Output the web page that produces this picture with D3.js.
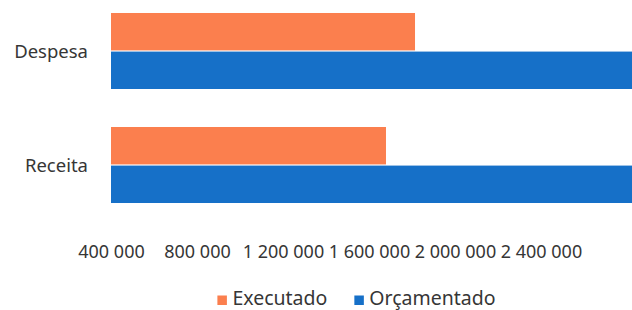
<!DOCTYPE html>
<html>
  <head>
    <meta charset="UTF-8">
    <script src="https://cdnjs.cloudflare.com/ajax/libs/d3/7.8.5/d3.min.js"></script>
    <style>
      body { margin: 0; background: #fff; }
      svg { display: block; font-family: "Noto Sans", "Open Sans", sans-serif; }
      .lbl { fill: #363636; }
    </style>
  </head>
  <body>
    <svg id="chart" width="632" height="310"></svg>
    <script>
      // data
      var categories = ["Despesa", "Receita"];
      var seriesNames = ["Executado", "Orçamentado"];
      var executado = [1814000, 1679000];
      var orcamentado = [2900000, 2900000];
      var tickValues = [400000, 800000, 1200000, 1600000, 2000000, 2400000];
      var colors = ["#fb7f4e", "#1670c8"];

      var svg = d3.select("#chart"),
          width = +svg.attr("width");

      var left = 111, plotTop = 0, plotBottom = 216;

      // 400 000 at the left edge, ~86px for every 400 000
      var x = d3.scaleLinear()
          .domain([400000, 2400000])
          .range([left, left + 430]);

      var y = d3.scaleBand()
          .domain(categories)
          .range([plotTop, plotBottom])
          .paddingInner(1 / 3)
          .paddingOuter(0.114);

      var ySub = d3.scaleBand()
          .domain(seriesNames)
          .range([0, y.bandwidth()])
          .paddingInner(0.03);

      var color = d3.scaleOrdinal().domain(seriesNames).range(colors);

      var rows = categories.map(function(c, i) {
        return {cat: c, values: [
          {name: seriesNames[0], value: executado[i]},
          {name: seriesNames[1], value: orcamentado[i]}
        ]};
      });

      var group = svg.selectAll(".grp")
        .data(rows)
        .enter().append("g")
          .attr("class", "grp")
          .attr("transform", function(d) { return "translate(0," + y(d.cat) + ")"; });

      group.selectAll("rect")
        .data(function(d) { return d.values; })
        .enter().append("rect")
          .attr("x", x(400000))
          .attr("y", function(d) { return ySub(d.name); })
          .attr("width", function(d) { return x(d.value) - x(400000); })
          .attr("height", ySub.bandwidth())
          .attr("fill", function(d) { return color(d.name); });

      // category labels
      var yAxis = svg.append("g")
          .attr("transform", "translate(" + (left - 23) + ",0)")
          .call(d3.axisLeft(y).tickSize(0).tickPadding(0));
      yAxis.select(".domain").remove();
      yAxis.selectAll("text")
          .attr("class", "lbl")
          .attr("dy", "0.36em")
          .style("font-size", "18.5px");

      // value axis labels, no line
      var fmt = function(v) { return d3.format(",d")(v).replace(/,/g, " "); };
      var xAxis = svg.append("g")
          .attr("transform", "translate(0,245)")
          .call(d3.axisBottom(x).tickValues(tickValues).tickFormat(fmt).tickSize(0).tickPadding(0));
      xAxis.select(".domain").remove();
      xAxis.selectAll("text")
          .attr("class", "lbl")
          .attr("dy", "0.71em")
          .style("font-size", "18px");
      svg.selectAll("g").attr("font-family", null).attr("font-size", null);

      // legend, centred
      var legend = svg.append("g").attr("transform", "translate(0,305)");
      var items = legend.selectAll("g")
        .data(seriesNames)
        .enter().append("g");
      items.append("rect")
          .attr("y", -9.5)
          .attr("width", 9.5)
          .attr("height", 9.5)
          .attr("fill", function(d) { return color(d); });
      items.append("text")
          .attr("class", "lbl")
          .attr("x", 15)
          .style("font-size", "19.5px")
          .text(function(d) { return d; });

      var pos = 0, offsets = [];
      items.each(function() {
        offsets.push(pos);
        pos += 15 + d3.select(this).select("text").node().getComputedTextLength() + 27;
      });
      var total = pos - 27;
      var start = 356.5 - total / 2;
      items.attr("transform", function(d, i) { return "translate(" + (start + offsets[i]) + ",0)"; });
    </script>
  </body>
</html>
